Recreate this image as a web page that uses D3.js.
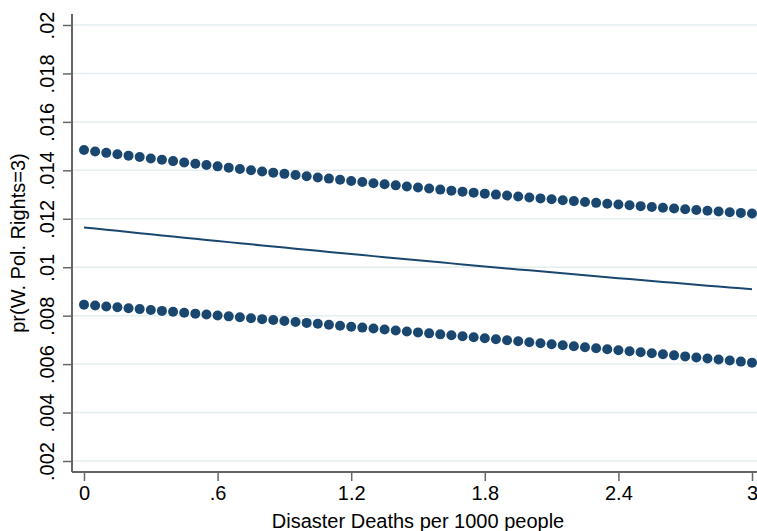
<!DOCTYPE html>
<html>
<head>
<meta charset="utf-8">
<script src="https://cdn.jsdelivr.net/npm/d3@7"></script>
<style>
  body { margin: 0; background: #fff; }
  text { font-family: "Liberation Sans", Arial, sans-serif; fill: #000; }
</style>
</head>
<body>
<script>
// disaster deaths per 1000 people (x grid of the prediction)
const deaths = [0, 0.05, 0.1, 0.15, 0.2, 0.25, 0.3, 0.35, 0.4, 0.45, 0.5, 0.55, 0.6, 0.65, 0.7, 0.75,
  0.8, 0.85, 0.9, 0.95, 1, 1.05, 1.1, 1.15, 1.2, 1.25, 1.3, 1.35, 1.4, 1.45, 1.5, 1.55, 1.6, 1.65,
  1.7, 1.75, 1.8, 1.85, 1.9, 1.95, 2, 2.05, 2.1, 2.15, 2.2, 2.25, 2.3, 2.35, 2.4, 2.45, 2.5, 2.55,
  2.6, 2.65, 2.7, 2.75, 2.8, 2.85, 2.9, 2.95, 3];

// upper bound (dots)
const upper = [.014840, .014781, .014722, .014664, .014606, .014549, .014492, .014436, .014381, .014326,
  .014271, .014217, .014164, .014111, .014058, .014007, .013955, .013904, .013854, .013804,
  .013755, .013706, .013658, .013610, .013563, .013517, .013470, .013425, .013380, .013335,
  .013291, .013248, .013205, .013162, .013120, .013079, .013038, .012998, .012958, .012919,
  .012880, .012842, .012804, .012767, .012730, .012694, .012658, .012623, .012589, .012555,
  .012521, .012488, .012456, .012424, .012392, .012362, .012331, .012301, .012272, .012243, .012215];

// predicted probability (line)
const pred = [.011644, .011596, .011548, .011501, .011454, .011406, .011360, .011313, .011266, .011220,
  .011173, .011127, .011082, .011036, .010990, .010945, .010900, .010855, .010810, .010765,
  .010721, .010677, .010633, .010589, .010545, .010501, .010458, .010415, .010372, .010329,
  .010286, .010244, .010202, .010159, .010117, .010076, .010034, .009993, .009952, .009910,
  .009870, .009829, .009788, .009748, .009708, .009668, .009628, .009589, .009549, .009510,
  .009471, .009432, .009393, .009355, .009316, .009278, .009240, .009202, .009165, .009127, .009090];

// lower bound (dots)
const lower = [.008455, .008418, .008382, .008345, .008308, .008271, .008234, .008197, .008159, .008122,
  .008084, .008047, .008009, .007971, .007933, .007895, .007856, .007818, .007780, .007741,
  .007702, .007663, .007625, .007585, .007546, .007507, .007468, .007428, .007389, .007349,
  .007309, .007269, .007229, .007189, .007148, .007108, .007067, .007027, .006986, .006945,
  .006904, .006863, .006822, .006781, .006739, .006698, .006656, .006614, .006572, .006530,
  .006488, .006446, .006404, .006361, .006319, .006276, .006233, .006190, .006147, .006104, .006061];

const xTicks = [0, 0.6, 1.2, 1.8, 2.4, 3];
const yTicks = [.002, .004, .006, .008, .01, .012, .014, .016, .018, .02];

const W = 757, H = 531;
const navy = "#1a476f";

const svg = d3.select("body").append("svg")
    .attr("width", W)
    .attr("height", H);

const x = d3.scaleLinear().domain([0, 3]).range([84, 752]);
const y = d3.scaleLinear().domain([.002, .02]).range([461, 25]);

const axisX = 72, axisY = 472;
// Stata style labels: no leading zero
const fmt = d => String(d).replace(/^0\./, ".");

// grid lines
svg.append("g")
  .selectAll("line")
  .data(yTicks)
  .enter().append("line")
    .attr("x1", axisX)
    .attr("x2", W)
    .attr("y1", d => y(d))
    .attr("y2", d => y(d))
    .attr("stroke", "#e4eef0")
    .attr("stroke-width", 1.5);

// y axis
const gy = svg.append("g")
    .attr("transform", "translate(" + axisX + ",0)")
    .call(d3.axisLeft(y).tickValues(yTicks).tickSize(9).tickSizeOuter(0).tickFormat(fmt));
gy.select(".domain").remove();
gy.selectAll(".tick line").attr("stroke", "#666").attr("stroke-width", 1.5);
gy.selectAll(".tick text")
    .attr("x", 0)
    .attr("dy", 0)
    .attr("transform", "translate(-18,0) rotate(-90)")
    .attr("text-anchor", "middle")
    .style("font-size", "20px");
svg.append("line")
    .attr("x1", axisX).attr("x2", axisX)
    .attr("y1", 14).attr("y2", axisY)
    .attr("stroke", "#666").attr("stroke-width", 2);

// x axis
const gx = svg.append("g")
    .attr("transform", "translate(0," + axisY + ")")
    .call(d3.axisBottom(x).tickValues(xTicks).tickSize(9).tickSizeOuter(0).tickFormat(fmt));
gx.select(".domain").remove();
gx.selectAll(".tick line").attr("stroke", "#666").attr("stroke-width", 1.5);
gx.selectAll(".tick text")
    .attr("y", 28)
    .attr("dy", 0)
    .style("font-size", "20px");
svg.append("line")
    .attr("x1", axisX).attr("x2", W)
    .attr("y1", axisY).attr("y2", axisY)
    .attr("stroke", "#666").attr("stroke-width", 2);

// predicted line
const line = d3.line()
    .x((d, i) => x(deaths[i]))
    .y(d => y(d));

svg.append("path")
    .datum(pred)
    .attr("fill", "none")
    .attr("stroke", navy)
    .attr("stroke-width", 2)
    .attr("d", line);

// confidence bounds as dots
[upper, lower].forEach(series => {
  svg.append("g")
    .selectAll("circle")
    .data(series)
    .enter().append("circle")
      .attr("cx", (d, i) => x(deaths[i]))
      .attr("cy", d => y(d))
      .attr("r", 5)
      .attr("fill", navy);
});

// axis titles
svg.append("text")
    .attr("transform", "translate(25," + (14 + axisY) / 2 + ") rotate(-90)")
    .attr("text-anchor", "middle")
    .style("font-size", "20px")
    .text("pr(W. Pol. Rights=3)");

svg.append("text")
    .attr("x", (x(0) + x(3)) / 2)
    .attr("y", 528)
    .attr("text-anchor", "middle")
    .style("font-size", "20px")
    .text("Disaster Deaths per 1000 people");
</script>
</body>
</html>
